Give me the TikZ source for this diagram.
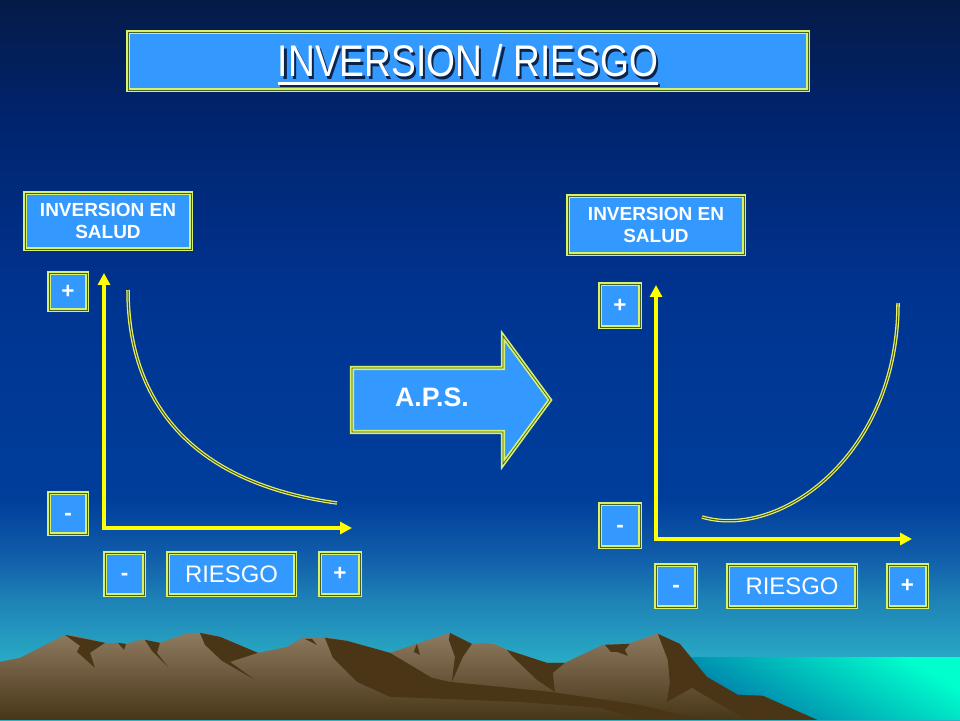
\documentclass[tikz,border=0pt]{standalone}
\usepackage{fontspec}
\setmainfont{Liberation Sans}
\newfontfamily\narrowfont{Liberation Sans}[FakeStretch=0.84]
\usetikzlibrary{arrows.meta,positioning,calc}

\definecolor{boxblue}{RGB}{51,153,255}
\definecolor{frameyel}{RGB}{214,240,112}
\definecolor{framedark}{RGB}{70,96,30}
\definecolor{curveyel}{RGB}{232,240,96}
\definecolor{curvedark}{RGB}{62,82,40}
\definecolor{axisyel}{RGB}{255,255,0}
\definecolor{titleshade}{RGB}{10,35,75}
\definecolor{sky0}{RGB}{45,178,198}
\definecolor{sky1}{RGB}{40,170,196}
\definecolor{sky2}{RGB}{30,130,182}
\definecolor{sky3}{RGB}{18,96,170}
\definecolor{sky4}{RGB}{0,62,156}
\definecolor{sky5}{RGB}{0,52,145}
\definecolor{sky6}{RGB}{0,36,110}
\definecolor{sky7}{RGB}{6,26,72}
\definecolor{seacyan}{RGB}{0,255,205}
\definecolor{seadeep}{RGB}{0,118,168}
\definecolor{mtlight}{RGB}{142,122,96}
\definecolor{mtdark}{RGB}{72,54,24}
\definecolor{mtshade}{RGB}{74,54,22}

\pgfdeclareverticalshading{skyfade}{100bp}{color(0bp)=(sky0); color(25bp)=(sky0);
  color(29.17bp)=(sky1); color(33.33bp)=(sky2); color(36.11bp)=(sky3); color(40.28bp)=(sky4);
  color(54.17bp)=(sky5); color(66.67bp)=(sky6); color(75bp)=(sky7); color(100bp)=(sky7)}

% titulo subrayado con sombra
\newcommand{\ulbar}[1]{\setbox0\hbox{#1}\rlap{\rule[-5.5pt]{\wd0}{2pt}}\box0}
\newcommand{\shadowtext}[1]{\rlap{\kern1.6pt\raisebox{-1.6pt}{\color{titleshade}\ulbar{#1}}}\ulbar{#1}}

\begin{document}
\begin{tikzpicture}[
    box/.style={draw=frameyel, double=framedark, double distance=0.5pt, line width=1.2pt,
      fill=boxblue, text=white, inner sep=0pt, align=center},
    sign/.style={box, font=\bfseries\fontsize{16}{18}\selectfont, text height=9.5pt, text depth=0pt},
    axis/.style={draw=axisyel, line width=2.8pt,
      {Triangle[length=8.5pt,width=8.5pt]}-{Triangle[length=8.5pt,width=8.5pt]}},
    curve/.style={draw=curveyel, double=curvedark, line width=0.9pt, double distance=0.7pt}
]
    \useasboundingbox (0,0) rectangle (24,18);
    \shade[shading=skyfade] (0,0) rectangle (24,18);

    % paisaje: mar y montanas
    \begin{scope}[x=0.025cm, y=-0.025cm, yshift=18cm]
      \shade[top color=seacyan, middle color=seacyan, bottom color=seadeep, shading angle=-30]
        (690,658) rectangle (960,720);
      \shade[top color=mtlight, bottom color=mtdark]
        (0,662) -- (20,658) -- (65,635) -- (75,636) -- (105,643) -- (118,643) -- (125,645)
        -- (135,641) -- (145,640) -- (160,643) -- (188,633) -- (203,633) -- (220,637)
        -- (258,653) -- (287,647) -- (303,638) -- (317,637) -- (330,638) -- (347,641)
        -- (390,653) -- (417,644) -- (450,633) -- (472,644) -- (485,643) -- (497,645)
        -- (507,650) -- (547,663) -- (565,663) -- (603,645) -- (628,644) -- (657,634)
        -- (680,644) -- (707,677) -- (738,695) -- (763,696) -- (817,720) -- (0,720) -- cycle;
      \fill[mtshade] (65,635) -- (105,643) -- (90,653) -- (95,668) -- (77,652) -- (80,646) -- cycle;
      \fill[mtshade] (118,643) -- (126,644) -- (124,650) -- cycle;
      \fill[mtshade] (145,640) -- (160,643) -- (157,653) -- (168,667) -- (152,651) -- cycle;
      \fill[mtshade] (200,633) -- (220,637) -- (258,653) -- (230,662) -- (255,680) -- (222,661) -- (205,645) -- cycle;
      \fill[mtshade] (305,639) -- (317,645) -- (312,639) -- cycle;
      \fill[mtshade] (325,638) -- (347,641) -- (390,653) -- (432,678) -- (450,682) -- (550,692)
        -- (640,705) -- (700,720) -- (640,720) -- (600,708) -- (517,702) -- (390,697)
        -- (357,682) -- (333,658) -- cycle;
      \fill[mtshade] (417,644) -- (420,655) -- (414,652) -- cycle;
      \fill[mtshade] (450,633) -- (472,644) -- (463,657) -- (452,682) -- (455,657) -- (449,640) -- cycle;
      \fill[mtshade] (507,650) -- (547,663) -- (565,663) -- (553,673) -- (555,692) -- (537,680) -- (513,657) -- cycle;
      \fill[mtshade] (605,645) -- (630,644) -- (625,650) -- (628,656) -- (617,652) -- (611,652) -- cycle;
      \fill[mtshade] (658,634) -- (680,644) -- (707,677) -- (738,695) -- (763,696) -- (817,720)
        -- (747,720) -- (692,688) -- (667,702) -- (670,683) -- (668,660) -- cycle;
    \end{scope}

    % titulo
    \node[box, minimum width=17cm, minimum height=1.45cm] (title) at (11.7,16.475) {};
    \node[anchor=base, text=white, font=\narrowfont\fontsize{31.5}{36}\selectfont]
      (titletext) at (11.7,16.075) {\shadowtext{INVERSION / RIESGO}};

    % grafico izquierdo
    \node[box, font=\bfseries\fontsize{13.5}{15.6}\selectfont, minimum width=4.15cm, minimum height=1.4cm]
      (inv1) at (2.7,12.475) {INVERSION EN\\SALUD};
    \node[sign, minimum width=0.95cm, minimum height=0.925cm] (plus1) at (1.7,10.7125) {+};
    \node[sign, minimum width=0.95cm, minimum height=1.025cm] (minus1) at (1.7,5.1625) {-};
    \node[sign, minimum width=0.975cm, minimum height=1.05cm] (minusx1) at (3.1125,3.65) {-};
    \node[box, font=\fontsize{17}{20}\selectfont, minimum width=3.175cm, minimum height=1.05cm]
      (riesgo1) at (5.7875,3.65) {RIESGO};
    \node[sign, minimum width=1cm, minimum height=1.05cm] (plusx1) at (8.5,3.65) {+};

    \coordinate (o1) at (2.6,4.8);
    \coordinate (ytop1) at (2.6,11.175);
    \coordinate (xend1) at (8.8,4.8);
    \draw[axis] (ytop1) -- (o1) -- (xend1);
    \coordinate (c1a) at (3.2,10.75);
    \coordinate (c1b) at (8.425,5.425);
    \draw[curve] (c1a) .. controls (3.2,8.9) and (3.9,6.05) .. (c1b);

    % flecha central
    \draw[box] (8.8,8.8) -- (12.575,8.8) -- (12.575,9.6) -- (13.75,8.0) -- (12.575,6.4)
      -- (12.575,7.2) -- (8.8,7.2) -- cycle;
    \node[text=white, font=\bfseries\fontsize{19}{22}\selectfont] (aps) at (10.8,8.06) {A.P.S.};

    % grafico derecho
    \node[box, font=\bfseries\fontsize{13.5}{15.6}\selectfont, minimum width=4.4cm, minimum height=1.45cm]
      (inv2) at (16.4,12.375) {INVERSION EN\\SALUD};
    \node[sign, minimum width=1cm, minimum height=1.075cm] (plus2) at (15.5,10.3625) {+};
    \node[sign, minimum width=1cm, minimum height=1.075cm] (minus2) at (15.5,4.8625) {-};
    \node[sign, minimum width=1cm, minimum height=1.05cm] (minusx2) at (16.9,3.35) {-};
    \node[box, font=\fontsize{17}{20}\selectfont, minimum width=3.2cm, minimum height=1.05cm]
      (riesgo2) at (19.8,3.35) {RIESGO};
    \node[sign, minimum width=0.975cm, minimum height=1.05cm] (plusx2) at (22.6875,3.35) {+};

    \coordinate (o2) at (16.4,4.525);
    \coordinate (ytop2) at (16.4,10.875);
    \coordinate (xend2) at (22.8,4.525);
    \draw[axis] (ytop2) -- (o2) -- (xend2);
    \coordinate (c2a) at (17.55,5.075);
    \coordinate (c2b) at (22.45,10.425);
    \draw[curve] (c2a) .. controls (19.5,4.5) and (22.45,6.625) .. (c2b);
\end{tikzpicture}
\end{document}
